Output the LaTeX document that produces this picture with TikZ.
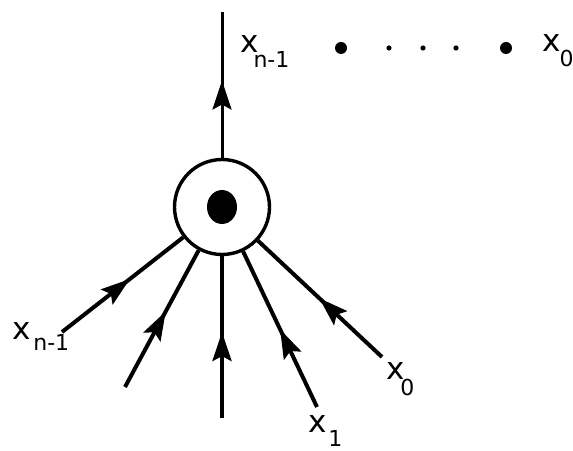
\documentclass[tikz,border=0pt]{standalone}
\usepackage{fontspec}
\newfontfamily\labfont{DejaVu Sans}
\usetikzlibrary{arrows.meta,decorations.markings}
% x with a lowered index: kern, drop, index
\newcommand{\xsub}[3]{x\kern#1\raisebox{-#2}{\fontsize{11}{12}\selectfont #3}}
\tikzset{
  hub/.style={circle,draw,line width=1.7pt,minimum size=47.5pt,inner sep=0pt},
  bigdot/.style={circle,fill,inner sep=0pt,minimum size=6pt},
  smalldot/.style={circle,fill,inner sep=0pt,minimum size=2.6pt},
  flow/.tip={Stealth[length=14.5pt,width=9.5pt,inset=2.5pt]},
  inedge/.style={line width=2pt,postaction={decorate},
    decoration={markings,mark=at position 43pt with {\arrow{flow}}}},
  outedge/.style={line width=1.5pt,postaction={decorate},
    decoration={markings,mark=at position 0.53 with {\arrow{flow}}}},
  lab/.style={font=\labfont\fontsize{15.5}{18}\selectfont,inner sep=0pt,anchor=base west}
}
\begin{document}
\begin{tikzpicture}[x=0.5pt,y=0.5pt]
\useasboundingbox (0,0) rectangle (573,450);
% the vertex
\node[hub] (hub) at (222,243) {};
\fill (hub.center) ellipse[x radius=7.5pt,y radius=8.5pt];
% outgoing edge
\coordinate (top) at (222,438);
\draw[outedge] (hub) -- (top);
% incoming edges
\coordinate (e1) at (62,118);
\coordinate (e2) at (125,63);
\coordinate (e3) at (222,32);
\coordinate (e4) at (317,43);
\coordinate (e5) at (382,93);
\foreach \e in {e1,e2,e3,e4,e5}
  \draw[inedge] (\e) -- (hub);
% labels
\node[lab] (ltop) at (240,397) {\xsub{-2.6pt}{7.5pt}{n-1}};
\node[lab] (ltopz) at (542,398) {\xsub{-0.6pt}{7.5pt}{0}};
\node[lab] (lin) at (12,110) {\xsub{1.3pt}{5pt}{n-1}};
\node[lab] (lone) at (308,18) {\xsub{0.8pt}{7pt}{1}};
\node[lab] (lzero) at (386,70) {\xsub{-2.2pt}{7.8pt}{0}};
% the row of dots
\node[bigdot] (d1) at (341,402) {};
\node[bigdot] (d2) at (506,402) {};
\foreach \x [count=\i] in {389,423,456}
  \node[smalldot] (s\i) at (\x,402) {};
\end{tikzpicture}
\end{document}
